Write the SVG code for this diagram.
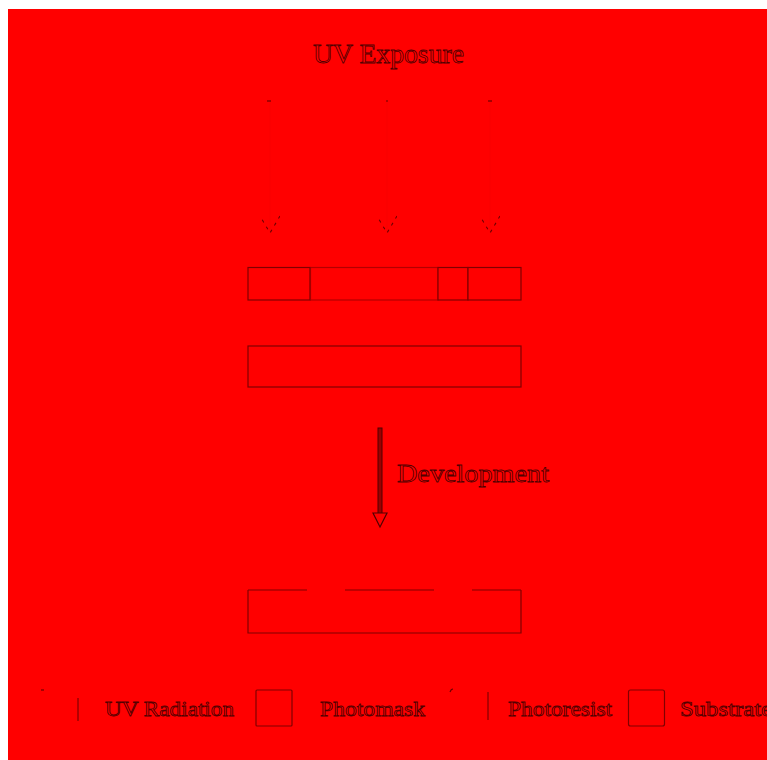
<svg xmlns="http://www.w3.org/2000/svg" width="767" height="760" viewBox="0 0 767 760">
  <defs>
    <style>
      .bg { fill: #ff0000; }
      .txt { font-family: "Liberation Serif", "DejaVu Serif", serif; fill: #ff0000; stroke: #500000; stroke-width: 0.8; }
      .box { fill: #ff0000; stroke: #800000; stroke-width: 1.2; }
      .ghost { fill: #ff0000; stroke: #ff0000; stroke-width: 1.2; }
      .ray { stroke: #fc0000; stroke-width: 2; fill: none; }
      .tick { stroke: #6a0000; stroke-width: 1.2; fill: none; }
    </style>
    <!-- open chevron head for the UV rays, drawn along +x so orient="auto" points it down the ray -->
    <marker id="rayHead" viewBox="0 0 20 20" refX="18" refY="10" markerWidth="20" markerHeight="20" markerUnits="userSpaceOnUse" orient="auto">
      <path d="M1 0 L18 10 L1 20" fill="none" stroke="#6a0000" stroke-width="1.1" stroke-dasharray="3 5"/>
    </marker>
  </defs>

  <!-- canvas -->
  <rect class="bg" x="8" y="9" width="759" height="751"/>

  <!-- title -->
  <g id="title">
    <text class="txt" x="388.5" y="63" font-size="28" text-anchor="middle" textLength="151" lengthAdjust="spacingAndGlyphs">UV Exposure</text>
  </g>

  <!-- incoming UV rays -->
  <g id="uv-rays">
    <line class="ray" x1="270" y1="101" x2="270" y2="233" marker-end="url(#rayHead)"/>
    <line class="ray" x1="387" y1="101" x2="387" y2="233" marker-end="url(#rayHead)"/>
    <line class="ray" x1="490" y1="101" x2="490" y2="233" marker-end="url(#rayHead)"/>
    <line class="tick" x1="267" y1="101" x2="271" y2="101"/>
    <line class="tick" x1="386" y1="101" x2="388" y2="101"/>
    <line class="tick" x1="488" y1="101" x2="492" y2="101"/>
  </g>

  <!-- photomask with open window -->
  <g id="photomask">
    <rect class="box" x="248" y="267.5" width="62" height="32.5"/>
    <rect class="box" x="310.5" y="267.5" width="127.5" height="32.5" stroke-opacity="0.6"/>
    <rect class="box" x="438" y="267.5" width="30" height="32.5"/>
    <rect class="box" x="468" y="267.5" width="53" height="32.5"/>
  </g>

  <!-- resist layer on substrate -->
  <g id="photoresist-layer">
    <rect class="ghost" x="248" y="326" width="273" height="20"/>
  </g>
  <g id="substrate">
    <rect class="box" x="248" y="346" width="273" height="41"/>
  </g>

  <!-- development step -->
  <g id="connectors">
    <rect x="378" y="428" width="4" height="86" fill="#9a0000" stroke="#500000" stroke-width="1"/>
    <path d="M373 513 L387 513 L380 527 Z" fill="#ff0000" stroke="#500000" stroke-width="1.2"/>
  </g>
  <g id="development-label">
    <text class="txt" x="397" y="482" font-size="26" textLength="152" lengthAdjust="spacingAndGlyphs">Development</text>
  </g>

  <!-- developed result -->
  <g id="developed">
    <rect class="ghost" x="248" y="590" width="273" height="43"/>
    <path d="M248 590 V633 H521 V590" fill="none" stroke="#800000" stroke-width="1.2"/>
    <line x1="248" y1="590" x2="307" y2="590" stroke="#800000" stroke-width="1.2"/>
    <line x1="345" y1="590" x2="434" y2="590" stroke="#800000" stroke-width="1.2"/>
    <line x1="472" y1="590" x2="521" y2="590" stroke="#800000" stroke-width="1.2"/>
  </g>

  <!-- legend -->
  <g id="legend-uv">
    <line class="tick" x1="41" y1="690" x2="44" y2="690"/>
    <line x1="78" y1="698" x2="78" y2="721" stroke="#800000" stroke-width="1.2"/>
    <text class="txt" x="105" y="716" font-size="21" textLength="129" lengthAdjust="spacingAndGlyphs">UV Radiation</text>
  </g>
  <g id="legend-photomask">
    <rect class="box" x="256" y="690" width="36" height="36" rx="1"/>
    <text class="txt" x="320" y="716" font-size="21" textLength="105" lengthAdjust="spacingAndGlyphs">Photomask</text>
  </g>
  <g id="legend-photoresist">
    <path d="M450 692 Q451 689 453 689" class="tick"/>
    <line x1="488" y1="692" x2="488" y2="720" stroke="#800000" stroke-width="1.2"/>
    <text class="txt" x="508" y="716" font-size="21" textLength="104" lengthAdjust="spacingAndGlyphs">Photoresist</text>
  </g>
  <g id="legend-substrate">
    <rect class="box" x="628.5" y="690" width="36" height="36" rx="2"/>
    <text class="txt" x="680" y="716" font-size="21" textLength="92" lengthAdjust="spacingAndGlyphs">Substrate</text>
  </g>
</svg>
